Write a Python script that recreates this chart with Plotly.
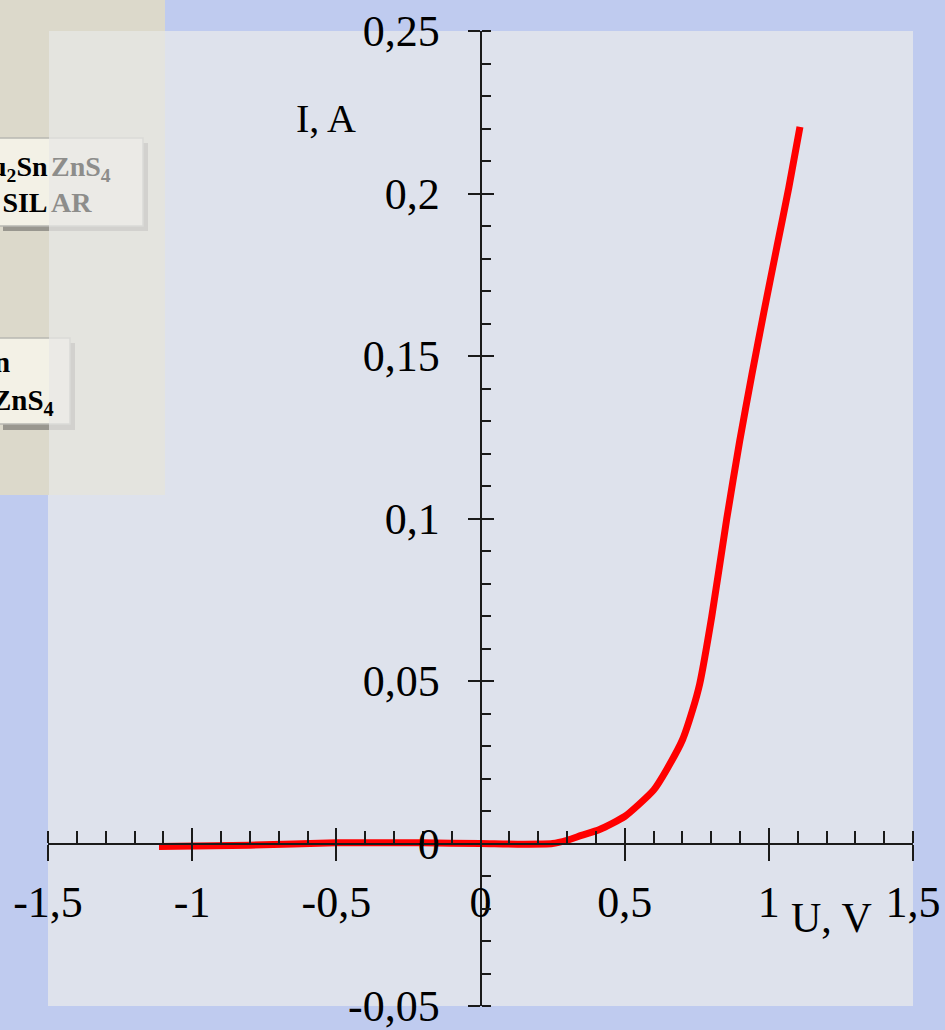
import plotly.graph_objects as go

# ---- data ----
U = [-1.115, -0.8, -0.5, -0.2, 0.0, 0.15, 0.25, 0.3, 0.35, 0.413, 0.5, 0.549, 0.601,
     0.646, 0.701, 0.736, 0.76, 0.802, 0.854, 0.899, 0.941, 0.983, 1.028, 1.069, 1.108]
I = [-0.0009, -0.0005, 0.0002, 0.0002, 0.0, -0.0002, 0.0, 0.0010, 0.0025, 0.0043, 0.0083,
     0.0120, 0.0165, 0.0228, 0.0320, 0.0412, 0.049, 0.0698, 0.0999, 0.1239, 0.1442, 0.1636,
     0.1836, 0.2017, 0.2205]

x_tickvals = [-1.5, -1, -0.5, 0, 0.5, 1, 1.5]
x_ticktext = ["-1,5", "-1", "-0,5", "0", "0,5", "1", "1,5"]
y_tickvals = [-0.05, 0, 0.05, 0.1, 0.15, 0.2, 0.25]
y_ticktext = ["-0,05", "0", "0,05", "0,1", "0,15", "0,2", "0,25"]

x_title = "U, V"
y_title = "I, A"

# ---- layout geometry ----
W, H = 945, 1030
L, R, T, B = 48, 913, 31, 1006
PW, PH = R - L, B - T


def px(x):
    return (x - L) / PW


def py(y):
    return (B - y) / PH


FONT = "Liberation Serif"
AX = "#1a1a1a"

fig = go.Figure()
fig.add_trace(go.Scatter(x=U, y=I, mode="lines",
                         line=dict(color="#ff0000", width=7, shape="spline", smoothing=0.6),
                         hoverinfo="skip", showlegend=False))
# invisible trace to activate the overlay axes (used for the crossing part of major ticks)
fig.add_trace(go.Scatter(x=U, y=I, mode="lines", xaxis="x2", yaxis="y2",
                         line=dict(color="rgba(0,0,0,0)", width=0),
                         hoverinfo="skip", showlegend=False))

common_font = dict(family=FONT, size=44, color="black")
xpos = (0.0 - (-0.05)) / 0.30

fig.update_layout(
    width=W, height=H, autosize=False,
    margin=dict(l=L, r=W - R, t=T, b=H - B, pad=0, autoexpand=False),
    paper_bgcolor="#bfcbef",
    plot_bgcolor="#dee2ec",
    showlegend=False,
    xaxis=dict(range=[-1.5, 1.5], anchor="free", position=xpos, automargin=False,
               showline=True, linecolor=AX, linewidth=2,
               ticks="outside", ticklen=16, tickwidth=1.5, tickcolor=AX,
               tickmode="array", tickvals=x_tickvals, ticktext=x_ticktext,
               tickfont=common_font, ticklabelstandoff=4, ticklabeloverflow="allow",
               minor=dict(ticks="inside", ticklen=12, tickwidth=1.5, tickcolor=AX,
                          tickmode="linear", tick0=0, dtick=0.1, showgrid=False),
               showgrid=False, zeroline=False, fixedrange=True),
    yaxis=dict(range=[-0.05, 0.25], anchor="free", position=0.5, automargin=False,
               showline=True, linecolor=AX, linewidth=2,
               ticks="outside", ticklen=12, tickwidth=1.5, tickcolor=AX,
               tickmode="array", tickvals=y_tickvals, ticktext=y_ticktext,
               tickfont=common_font, ticklabelstandoff=19, ticklabeloverflow="allow",
               minor=dict(ticks="inside", ticklen=9, tickwidth=1.5, tickcolor=AX,
                          tickmode="linear", tick0=0, dtick=0.01, showgrid=False),
               showgrid=False, zeroline=False, fixedrange=True),
    xaxis2=dict(range=[-1.5, 1.5], overlaying="x", anchor="free", position=xpos,
                automargin=False,
                showline=False, ticks="inside", ticklen=16, tickwidth=1.5, tickcolor=AX,
                tickmode="array", tickvals=x_tickvals, showticklabels=False,
                showgrid=False, zeroline=False, fixedrange=True),
    yaxis2=dict(range=[-0.05, 0.25], overlaying="y", anchor="free", position=0.5,
                automargin=False,
                showline=False, ticks="inside", ticklen=12, tickwidth=1.5, tickcolor=AX,
                tickmode="array", tickvals=y_tickvals, showticklabels=False,
                showgrid=False, zeroline=False, fixedrange=True),
)

shapes = []


def rect(x0, y0, x1, y1, fill, line=None, lw=0):
    shapes.append(dict(type="rect", xref="paper", yref="paper",
                       x0=px(x0), x1=px(x1), y0=py(y1), y1=py(y0),
                       fillcolor=fill, line=dict(color=line or "rgba(0,0,0,0)", width=lw),
                       layer="below"))


# beige side panel (top-left)
rect(-5, -5, 165, 495, "#dcd9cb")
# button 1
rect(3, 143, 148, 231, "rgba(70,70,70,0.45)")
rect(-10, 138, 143, 226, "#f3f1e6", "#b8b8b2", 1.5)
# button 2
rect(3, 343, 75, 430, "rgba(70,70,70,0.45)")
rect(-10, 338, 70, 424, "#f3f1e6", "#b8b8b2", 1.5)
# lighter veil over right part
rect(49, 31, 165, 495, "rgba(232,232,230,0.72)")

fig.update_layout(shapes=shapes)

ann = []


def text(x, y, s, size, color="black", xanchor="center", yanchor="middle", align="center"):
    ann.append(dict(xref="paper", yref="paper", x=px(x), y=py(y), text=s,
                    showarrow=False, xanchor=xanchor, yanchor=yanchor, align=align,
                    font=dict(family=FONT, size=size, color=color)))


text(326, 118, y_title, 40)
text(831, 918, x_title, 42)

GREY = "#8d8d8b"
text(50, 184, "<b>u<sub>2</sub>Sn<br>SIL</b>", 28, "black", xanchor="right", align="right")
text(49, 184, "<b>ZnS<sub>4</sub><br>AR</b>", 28, GREY, xanchor="left", align="left")
text(56, 383, "<b>n" + "&nbsp;" * 6 + "<br>ZnS<sub>4</sub></b>", 29, "black",
     xanchor="right", align="right")

fig.update_layout(annotations=ann)

fig.write_html("out.html",
               config={"displayModeBar": False, "responsive": False},
               post_script="document.body.style.margin='0';"
                           "document.body.style.overflow='hidden';")
